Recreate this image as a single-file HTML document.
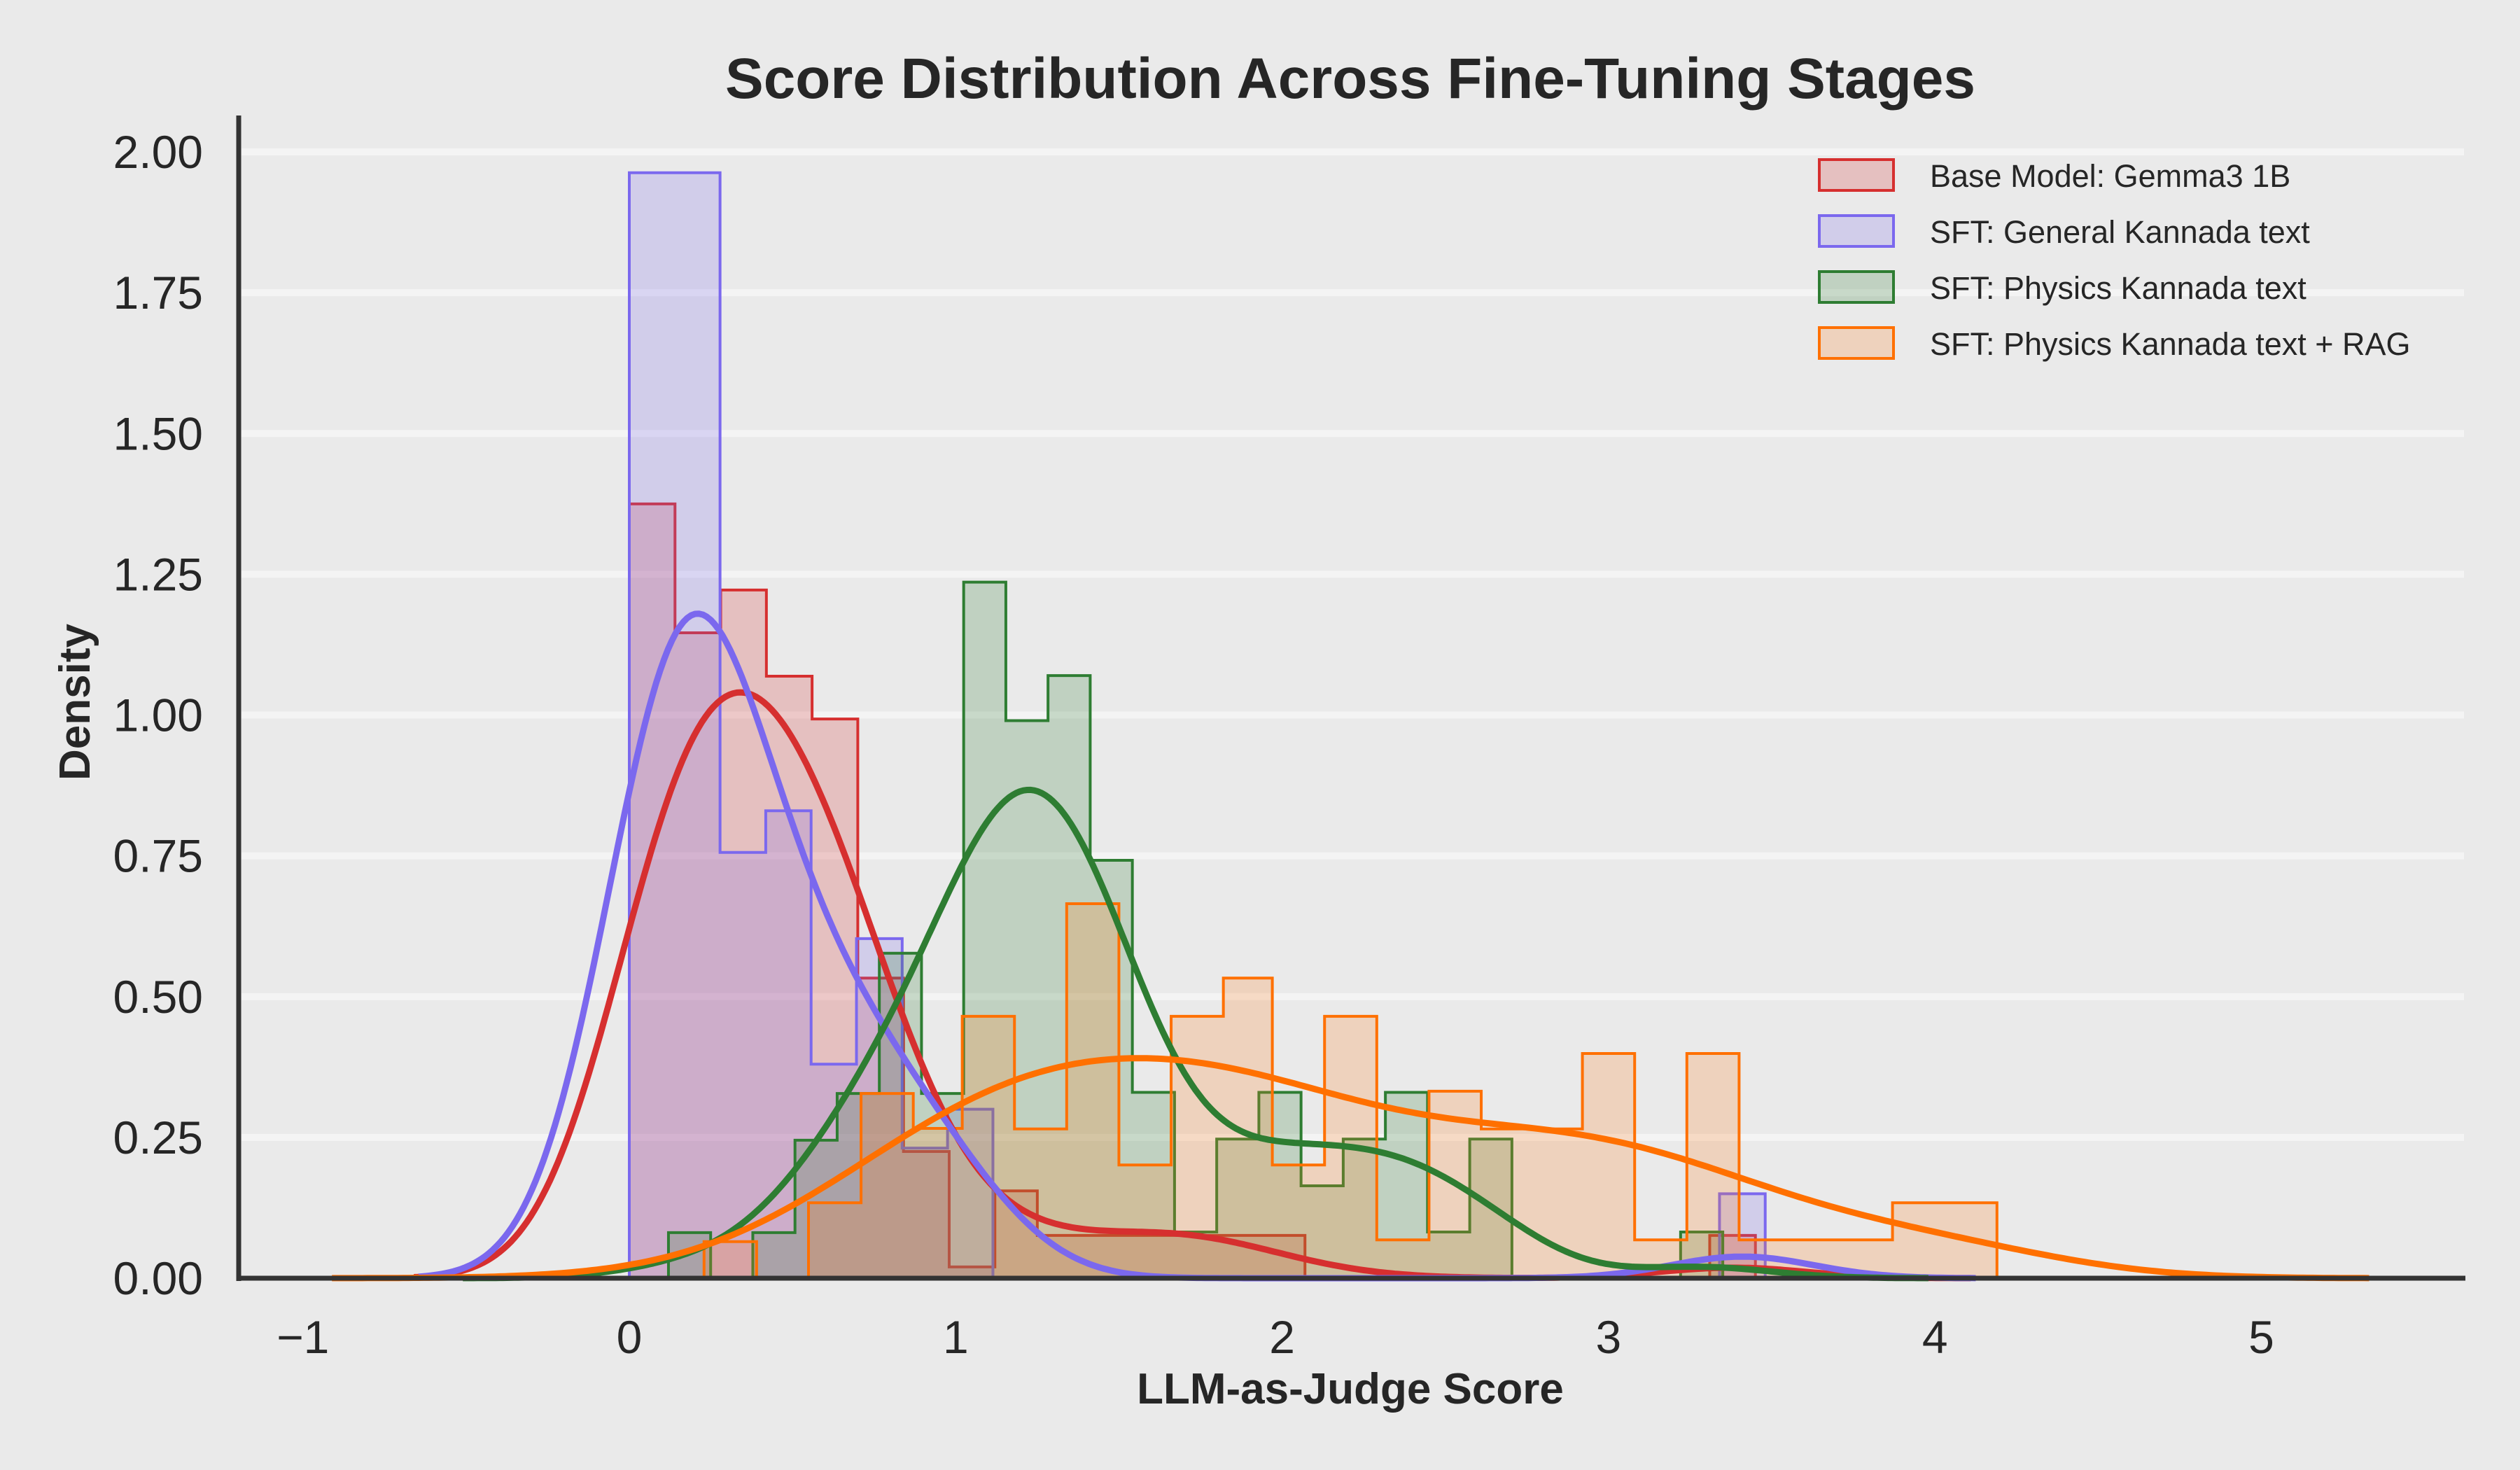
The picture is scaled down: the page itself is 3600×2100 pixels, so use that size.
<!DOCTYPE html>
<html><head><meta charset="utf-8"><style>
html,body{margin:0;padding:0;background:#eaeaea;}
svg{display:block;font-family:"Liberation Sans",Arial,sans-serif;}
</style></head><body>
<svg id="s" width="3600" height="2100" viewBox="0 0 3600 2100" xmlns="http://www.w3.org/2000/svg">
<rect width="3600" height="2100" fill="#eaeaea"/>
<g id="grid" stroke="#f4f4f4" stroke-width="10"></g>
<g id="hist"></g>
<g id="kde" fill="none" stroke-width="9" stroke-linejoin="round"></g>
<line x1="341" y1="165" x2="341" y2="1830" stroke="#333" stroke-width="7"/>
<line x1="338" y1="1826" x2="3522" y2="1826" stroke="#333" stroke-width="7"/>
<g id="ticks" fill="#262626" font-size="66"></g>
<text x="1929" y="140" text-anchor="middle" font-size="82" font-weight="bold" fill="#262626">Score Distribution Across Fine-Tuning Stages</text>
<text x="1929" y="2005" text-anchor="middle" font-size="62" font-weight="bold" fill="#262626">LLM-as-Judge Score</text>
<text transform="translate(128,1003) rotate(-90)" text-anchor="middle" font-size="62" font-weight="bold" fill="#262626">Density</text>
<g id="legend" font-size="45" fill="#262626"></g>
</svg>
<script>
const NS="http://www.w3.org/2000/svg";
const X=v=>899+466.3*v, Y=v=>1826-804.5*v;
function el(p,tag,at,txt){const e=document.createElementNS(NS,tag);for(const k in at)e.setAttribute(k,at[k]);if(txt!==undefined)e.textContent=txt;document.getElementById(p).appendChild(e);return e;}
for(let i=1;i<=8;i++){const v=i*0.25;el('grid','line',{x1:345,x2:3520,y1:Y(v),y2:Y(v)});}
for(let i=0;i<=8;i++){const v=i*0.25;el('ticks','text',{x:290,y:Y(v)+23,'text-anchor':'end'},v.toFixed(2));}
for(let i=-1;i<=5;i++){el('ticks','text',{x:X(i),y:1933,'text-anchor':'middle'},i<0?'\u2212'+(-i):String(i));}
function seg(edges,h){const s=[];for(let i=0;i<h.length;i++)s.push([edges[i],edges[i+1],h[i]]);return s;}
const red=[[0,.14,1.375],[.14,.28,1.146],[.28,.42,1.222],[.42,.56,1.069],[.56,.70,.993],[.70,.84,.533],[.84,.98,.225],[.98,1.12,0.02],[1.12,1.25,.155],[1.25,2.07,.076],[2.07,3.31,0],[3.31,3.45,.076]];
const purple=[[0,.278,1.963],[.278,.418,.756],[.418,.557,.83],[.557,.696,.38],[.696,.836,.603],[.836,.975,.231],[.975,1.114,.30],[1.114,3.34,0],[3.34,3.48,.15]];
const gh=[.081,0,.081,.245,.328,.577,.328,1.236,.99,1.07,.742,.33,.082,.247,.33,.164,.247,.33,.082,.247,0,0,0,0,.082];
const ge=[];for(let i=0;i<=gh.length;i++)ge.push(.12+.1292*i);
const green=seg(ge,gh);
const oe=[.229,.39,.549,.71,.87,1.02,1.18,1.34,1.50,1.66,1.82,1.97,2.13,2.29,2.45,2.61,2.76,2.92,3.08,3.24,3.40,3.56,3.72,3.87,4.03,4.19];
const oh=[.065,0,.134,.328,.266,.465,.265,.665,.201,.465,.533,.201,.465,.068,.332,.265,.265,.399,.068,.399,.068,.068,.068,.134,.134];
const orange=seg(oe,oh);
const series=[
 {d:red,c:'#d62f2f',f:'#d62f2f',bw:0.22,lab:'Base Model: Gemma3 1B'},
 {d:purple,c:'#7b68ee',f:'#7b68ee',bw:0.215,lab:'SFT: General Kannada text'},
 {d:green,c:'#2e7d32',f:'#2e7d32',bw:0.21,lab:'SFT: Physics Kannada text'},
 {d:orange,c:'#ff7000',f:'#ff7f1e',bw:0.38,lab:'SFT: Physics Kannada text + RAG'}];
series.forEach(s=>{
 const d=s.d;let p='M'+X(d[0][0])+','+Y(0);
 d.forEach(b=>{p+=' L'+X(b[0])+','+Y(b[2])+' L'+X(b[1])+','+Y(b[2]);});
 p+=' L'+X(d[d.length-1][1])+','+Y(0)+' Z';
 el('hist','path',{d:p,fill:s.f,'fill-opacity':0.22,stroke:'none'});
 el('hist','path',{d:p,fill:'none',stroke:s.c,'stroke-width':4,'stroke-linejoin':'miter'});
});
series.forEach(s=>{
 const d=s.d;let tot=0;d.forEach(b=>tot+=b[2]*(b[1]-b[0]));
 const lo=d[0][0]-3*s.bw, hi=d[d.length-1][1]+3*s.bw;
 let p='';const N=400;
 for(let i=0;i<=N;i++){const x=lo+(hi-lo)*i/N;let f=0;
  d.forEach(b=>{const w=b[1]-b[0];if(b[2]<=0)return;const m=b[2]*w/tot;const c=(b[0]+b[1])/2;const sd=Math.sqrt(s.bw*s.bw+w*w/12);f+=m*Math.exp(-0.5*((x-c)/sd)**2)/(sd*Math.sqrt(2*Math.PI));});
  p+=(i?' L':'M')+X(x).toFixed(1)+','+Y(f).toFixed(1);}
 el('kde','path',{d:p,stroke:s.c});
});
series.forEach((s,i)=>{const y=228+i*80;
 el('legend','rect',{x:2599,y:y,width:106,height:44,fill:s.f,'fill-opacity':0.22,stroke:s.c,'stroke-width':4});
 el('legend','text',{x:2757,y:y+39},s.lab);});
</script>
</body></html>
